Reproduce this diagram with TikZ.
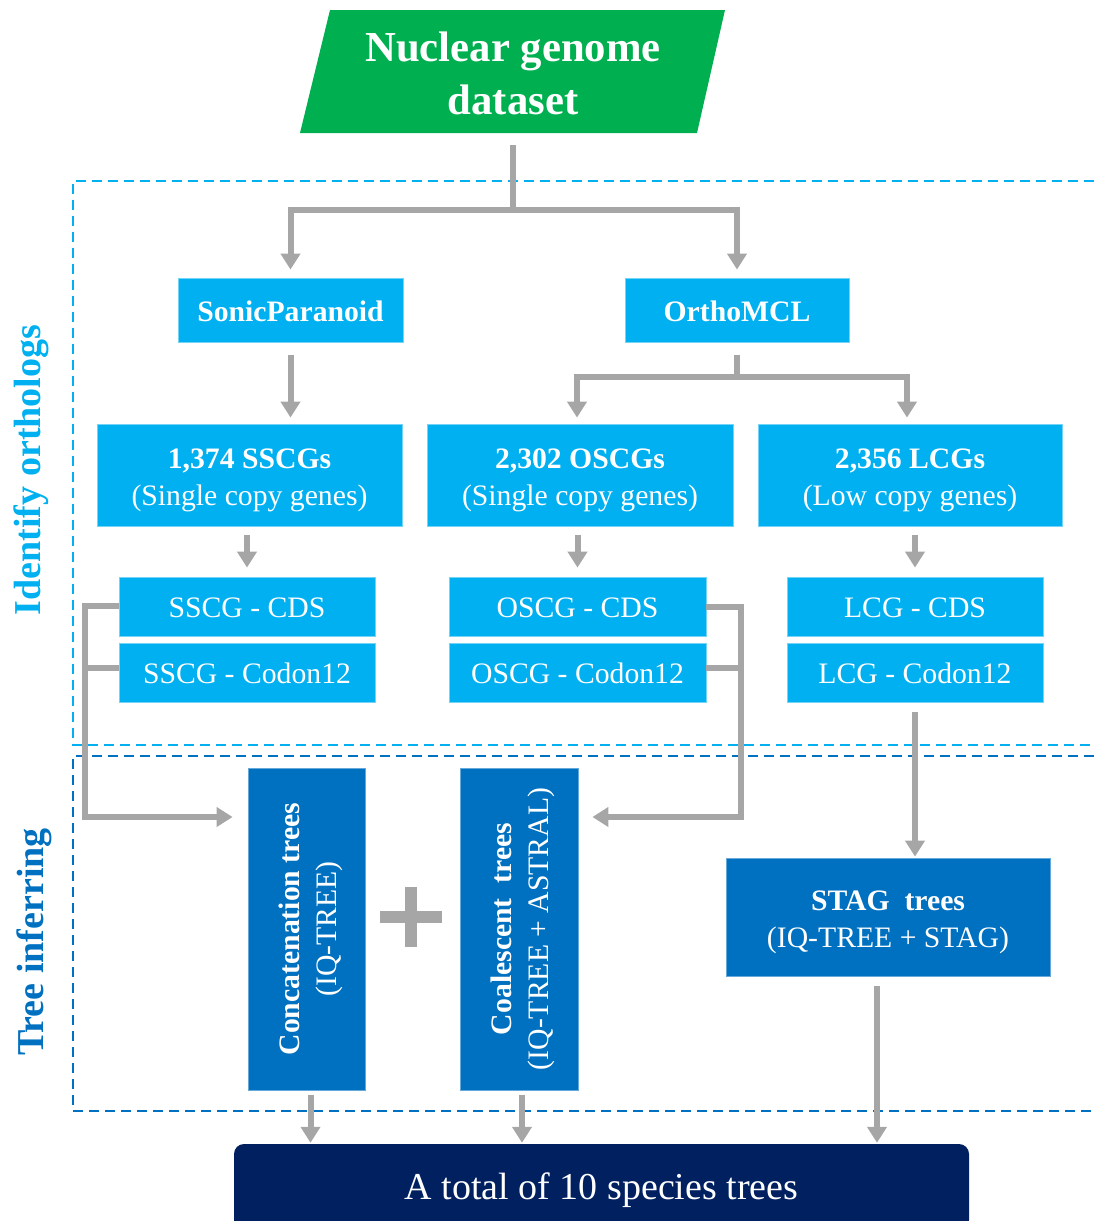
\documentclass[tikz,border=0pt]{standalone}
\usepackage{fontspec}
\setmainfont{Liberation Serif}
\usetikzlibrary{arrows.meta,calc}
\definecolor{skyb}{HTML}{00B0F0}
\definecolor{midb}{HTML}{0070C0}
\definecolor{navyb}{HTML}{002060}
\definecolor{leafg}{HTML}{00B050}
\definecolor{linkg}{HTML}{A6A6A6}
\newcommand{\boxfont}{\fontsize{29.7}{37}\selectfont}
% centred lines, lowered optically without changing the node size
\newcommand{\dn}[2]{\raisebox{-#1}[\height][\depth]{\begin{tabular}{@{}c@{}}#2\end{tabular}}}
\newcommand{\vtext}[2]{\rotatebox{90}{\dn{4pt}{\textbf{#1}\\#2}}}

\begin{document}
\begin{tikzpicture}[x=1pt,y=-1pt,
  box/.style={fill=skyb, draw=skyb!55!white, line width=0.8pt, text=white,
    inner sep=0pt, font=\boxfont},
  darkbox/.style={box, fill=midb, draw=midb!60!white},
  conn/.style={draw=linkg, line width=6pt},
  arr/.style={conn, -{Triangle[width=19pt,length=16pt]}},
  zone1/.style={draw=skyb, line width=1.8pt, dash pattern=on 10pt off 6pt},
  zone2/.style={draw=midb, line width=1.8pt, dash pattern=on 10pt off 6pt},
  sidelabel/.style={rotate=90, font=\bfseries\fontsize{38}{40}\selectfont}
]
\useasboundingbox (0,0) rectangle (1094,1221);
\clip (0,0) rectangle (1094,1221);

% stage frames
\draw[zone1] (1094,181) -- (73,181) -- (73,745) -- (1094,745);
\draw[zone2] (1094,756) -- (73,756) -- (73,1111) -- (1094,1111);

\node[sidelabel, text=skyb] (lab1) at (31,470) {Identify orthologs};
\node[sidelabel, text=midb] (lab2) at (34,942) {Tree inferring};

% input dataset
\fill[leafg] (330,10) -- (725,10) -- (697,133) -- (300,133) -- cycle;
\node[text=white, inner sep=0pt, minimum width=395pt, minimum height=123pt,
  font=\bfseries\fontsize{42.7}{53}\selectfont] (src) at (513,71.5) {\dn{5.5pt}{Nuclear genome\\dataset}};

% orthology tools
\node[box, font=\boxfont\bfseries, minimum width=225pt, minimum height=64pt] (sonic) at (290.5,310) {\dn{4pt}{SonicParanoid}};
\node[box, font=\boxfont\bfseries, minimum width=224pt, minimum height=64pt] (ortho) at (737,310) {\dn{4pt}{OrthoMCL}};

% gene sets
\node[box, minimum width=305pt, minimum height=102pt] (sscg) at (249.5,475) {\dn{5pt}{\textbf{1,374 SSCGs}\\(Single copy genes)}};
\node[box, minimum width=306pt, minimum height=102pt] (oscg) at (580,475) {\dn{5pt}{\textbf{2,302 OSCGs}\\(Single copy genes)}};
\node[box, minimum width=304pt, minimum height=102pt] (lcg) at (910,475) {\dn{5pt}{\textbf{2,356 LCGs}\\(Low copy genes)}};

% alignments
\node[box, minimum width=256pt, minimum height=59pt] (scds) at (247,606.5) {\dn{4pt}{SSCG - CDS}};
\node[box, minimum width=256pt, minimum height=59pt] (scod) at (247,672.5) {\dn{4pt}{SSCG - Codon12}};
\node[box, minimum width=257pt, minimum height=59pt] (ocds) at (577.5,606.5) {\dn{4pt}{OSCG - CDS}};
\node[box, minimum width=257pt, minimum height=59pt] (ocod) at (577.5,672.5) {\dn{4pt}{OSCG - Codon12}};
\node[box, minimum width=256pt, minimum height=59pt] (lcds) at (915,606.5) {\dn{4pt}{LCG - CDS}};
\node[box, minimum width=256pt, minimum height=59pt] (lcod) at (915,672.5) {\dn{4pt}{LCG - Codon12}};

% tree inference
\node[darkbox, minimum width=117pt, minimum height=322pt] (concat) at (306.5,929) {\vtext{Concatenation trees}{(IQ-TREE)}};
\node[darkbox, minimum width=118pt, minimum height=322pt] (coal) at (519,929) {\vtext{Coalescent\ \ trees}{(IQ-TREE + ASTRAL)}};
\node[darkbox, minimum width=324pt, minimum height=118pt] (stag) at (888,917) {\dn{5pt}{\textbf{STAG\ \ trees}\\(IQ-TREE + STAG)}};

% plus sign
\fill[linkg] (380,911) rectangle (442,923);
\fill[linkg] (405,887) rectangle (417,947);

% result
\node[fill=navyb, rounded corners=10pt, text=white, inner sep=0pt, minimum width=735pt,
  minimum height=86pt, font=\fontsize{38}{40}\selectfont] (total) at (601.5,1187) {\dn{4pt}{A total of 10 species trees}};

% connectors
\coordinate (fork1) at (513,210);
\draw[conn] ([yshift=-12pt]src.south) -- (fork1);
\draw[arr, shorten >=8pt] (fork1) -| (sonic.north);
\draw[arr, shorten >=8pt] (fork1) -| (ortho.north);

\draw[arr, shorten <=13pt, shorten >=6pt] (sonic.south) -- (sonic.south |- sscg.north);

\coordinate (fork2) at (737,377);
\draw[conn] ([yshift=-13pt]ortho.south) -- (fork2);
\draw[arr, shorten >=6pt] (fork2) -| ([xshift=-3pt]oscg.north);
\draw[arr, shorten >=6pt] (fork2) -| ([xshift=-3pt]lcg.north);

\draw[arr, shorten <=9pt, shorten >=9pt] (sscg.south -| scds.north) -- (scds.north);
\draw[arr, shorten <=9pt, shorten >=9pt] (oscg.south -| ocds.north) -- (ocds.north);
\draw[arr, shorten <=9pt, shorten >=9pt] (lcg.south -| lcds.north) -- (lcds.north);

\coordinate (lb) at (85,817);
\draw[arr, shorten >=15pt] ([yshift=1pt]scds.west) -| (lb) -- (concat.west |- lb);
\draw[conn] ([yshift=5pt]scod.west) -- ([yshift=5pt]scod.west -| lb);

\coordinate (rb) at (741,817);
\draw[arr, shorten >=14pt] (ocds.east) -| (rb) -- (coal.east |- rb);
\draw[conn] ([yshift=5pt]ocod.east) -- ([yshift=5pt]ocod.east -| rb);

\draw[arr, shorten <=10pt, shorten >=1pt] (lcod.south) -- (lcod.south |- stag.north);

\draw[arr, shorten <=5pt, shorten >=1pt] ([xshift=4pt]concat.south) -- ([xshift=4pt]concat.south |- total.north);
\draw[arr, shorten <=5pt, shorten >=1pt] ([xshift=3pt]coal.south) -- ([xshift=3pt]coal.south |- total.north);
\draw[arr, shorten <=10pt, shorten >=1pt] ([xshift=-11pt]stag.south) -- ([xshift=-11pt]stag.south |- total.north);
\end{tikzpicture}
\end{document}
